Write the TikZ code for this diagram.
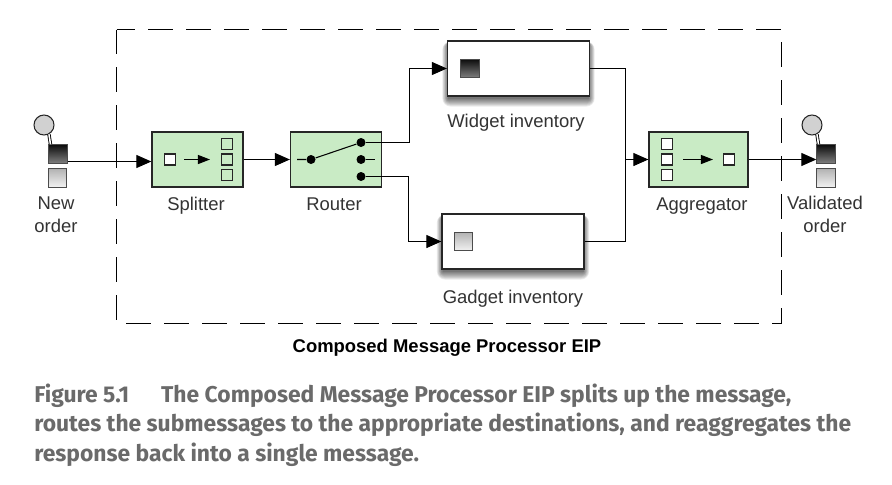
\documentclass[tikz,border=0pt]{standalone}
\usepackage{fontspec}
\setmainfont{Liberation Sans}
\newfontfamily\capfont{Fira Sans}
\usetikzlibrary{arrows.meta}
\definecolor{eipgreen}{HTML}{C9EBC5}
\definecolor{capgray}{HTML}{6A6A6A}
\tikzset{
	eipbox/.style={draw=black!85,line width=.75pt,fill=eipgreen,minimum width=1.82cm,minimum height=1.1cm,inner sep=0pt},
	storebox/.style={draw=black!85,line width=.75pt,fill=white,minimum width=2.84cm,minimum height=1.1cm,inner sep=0pt},
	cell/.style={draw=black!85,line width=.6pt,fill=white,minimum size=.22cm,inner sep=0pt},
	greencell/.style={cell,fill=eipgreen},
	darkmsg/.style={draw=black!70,line width=.5pt,top color=black!95,bottom color=black!50,minimum size=.37cm,inner sep=0pt},
	lightmsg/.style={draw=black!70,line width=.5pt,top color=black!30,bottom color=black!5,minimum size=.37cm,inner sep=0pt},
	dot/.style={circle,fill=black,minimum size=.18cm,inner sep=0pt},
	client/.style={circle,draw=black!85,line width=.6pt,fill=black!18,minimum size=.4cm,inner sep=0pt},
	lbl/.style={font=\fontsize{10.5}{12.6}\selectfont,text=black!80,align=center,inner sep=0pt,anchor=base},
	flow/.style={-{Stealth[length=.3cm,width=.26cm,inset=0pt]},line width=.6pt},
	iconflow/.style={-{Stealth[length=.24cm,width=.18cm,inset=0pt]},line width=.6pt},
	wire/.style={line width=.6pt},
}
\begin{document}
\begin{tikzpicture}[x=.02cm,y=-.02cm,line join=miter]
	\useasboundingbox[fill=white] (0,0) rectangle (892,484);
	% dashed frame
	\draw[line width=.65pt,dash pattern=on .5cm off .26cm] (116.5,29.5) rectangle (781.5,323.5);
	% soft shadows below the two stores
	\foreach \g/\cx/\cy in {1/518.5/68.5,2/513/241.5}{
		\foreach \r in {8,7,...,0}{
			\fill[black,opacity=.08,rounded corners=\r*.02cm] (\cx-70.5-\r*.7,\cy-24.5-\r*.3) rectangle (\cx+70.5+\r*.7,\cy+30+\r);}
	}
	% boxes
	\node[eipbox] (splitter) at (197.5,159.5) {};
	\node[eipbox] (router) at (336,159.5) {};
	\node[eipbox,minimum width=1.98cm] (aggregator) at (698.5,159.5) {};
	\node[storebox] (widget) at (518.5,68.5) {};
	\node[storebox] (gadget) at (513,241.5) {};
	% clients
	\node[client] (newcirc) at (44,125) {};
	\node[darkmsg] (newdark) at (58,154) {};
	\node[lightmsg] (newlight) at (57.5,178) {};
	\node[client] (valcirc) at (812,125) {};
	\node[darkmsg] (valdark) at (826,154) {};
	\node[lightmsg] (vallight) at (826,178) {};
	\foreach \c/\m in {newcirc/newdark,valcirc/valdark}{
		\draw[line width=.5pt,double=white,double distance=.9pt] (\c.-62) -- ([xshift=-.15cm]\m.north);}
	% splitter icon
	\node[cell] (splitin) at (170,159.5) {};
	\node[greencell] (splita) at (227,144) {};
	\node[greencell] (splitb) at (227,159.5) {};
	\node[greencell] (splitc) at (227,175) {};
	\draw[iconflow] ([xshift=.16cm]splitin.east) -- ([xshift=-.22cm]splitb.west);
	% router icon
	\node[dot] (pivot) at (311,159.5) {};
	\node[dot] (outa) at (361,142.5) {};
	\node[dot] (outb) at (361,159.5) {};
	\node[dot] (outc) at (361,176.5) {};
	\coordinate (instub) at (297,159.5);
	\coordinate (outstub) at (375,159.5);
	\draw[wire] (instub) -- (pivot) -- (outa);
	\draw[wire] (outb) -- (outstub);
	% aggregator icon
	\node[cell] (aggra) at (667,144) {};
	\node[cell] (aggrb) at (667,159.5) {};
	\node[cell] (aggrc) at (667,175) {};
	\node[cell] (aggrout) at (729,159.5) {};
	\draw[iconflow] ([xshift=.2cm]aggrb.east) -- ([xshift=-.2cm]aggrout.west);
	% message icons in the stores
	\node[darkmsg] (widgetmsg) at (470,68.5) {};
	\node[lightmsg] (gadgetmsg) at (463.5,241.5) {};
	% connectors
	\coordinate (join) at (625.5,159.5);
	\draw[flow] (newdark.east|-0,161.5) -- (splitter.west|-0,161.5);
	\draw[flow] (splitter.east) -- (router.west);
	\draw[flow] (outa) -| (409.5,68.5) -- (widget.west|-widgetmsg);
	\draw[flow] (outc) -| (408.5,241.5) -- (gadget.west|-gadgetmsg);
	\draw[wire] (widget.east|-0,68.5) -| (join);
	\draw[wire] (gadget.east|-0,241.5) -| (join);
	\draw[flow] (join) -- (aggregator.west|-join);
	\draw[flow] (aggregator.east) -- (valdark.west|-aggregator);
	% labels
	\node[lbl] (newlbl) at (56,232) {New\\[.2pt]order};
	\node[lbl] (splitlbl) at (196,210) {Splitter};
	\node[lbl] (routerlbl) at (334,210) {Router};
	\node[lbl] (widgetlbl) at (516,127) {Widget inventory};
	\node[lbl] (gadgetlbl) at (513,303) {Gadget inventory};
	\node[lbl] (aggrlbl) at (702,210) {Aggregator};
	\node[lbl] (vallbl) at (825,232) {Validated\\[.2pt]order};
	\node[lbl,font=\fontsize{10.5}{12}\selectfont\bfseries,text=black] (title) at (447,352) {Composed Message Processor EIP};
	\node[anchor=base west,inner sep=0pt,align=left,text=capgray,font=\capfont\bfseries\fontsize{13}{16.9}\selectfont] (caption) at (34,461.5) {Figure 5.1\hspace{1.4em}The Composed Message Processor EIP splits up the message,\\routes the submessages to the appropriate destinations, and reaggregates the\\response back into a single message.};
\end{tikzpicture}
\end{document}
